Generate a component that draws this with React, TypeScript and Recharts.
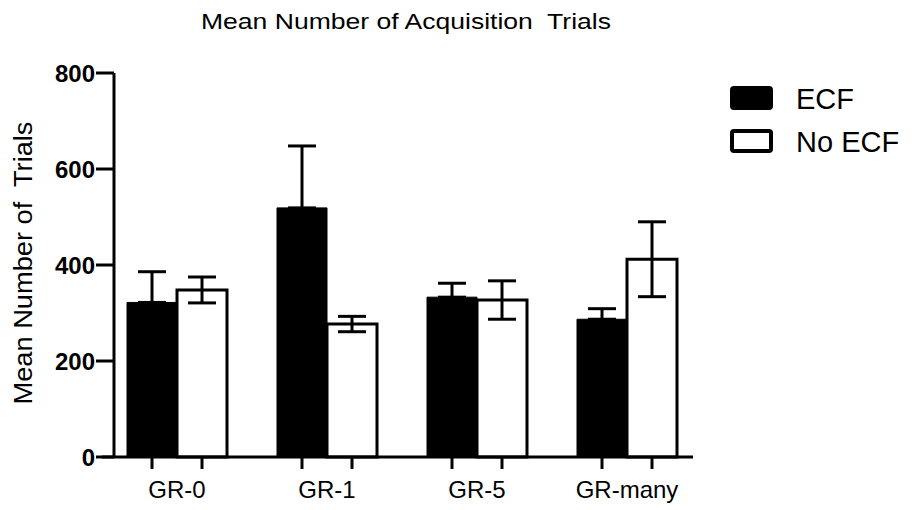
import React from "react";
import { BarChart, Bar, XAxis, YAxis, ErrorBar, Legend } from "recharts";

const groups = ["GR-0", "GR-1", "GR-5", "GR-many"];
const ecfMean = [322, 519, 333, 287];
const ecfSem = [64, 129, 29, 22];
const noEcfMean = [348, 277, 327, 412];
const noEcfSem = [27, 16, 40, 78];
const yTicks = [0, 200, 400, 600, 800];

const FONT = "'Liberation Sans', Arial, Helvetica, sans-serif";

const data = groups.map((g, i) => ({
    group: g,
    ecf: ecfMean[i],
    // only the upper whisker shows on the filled bars
    ecfErr: [0, ecfSem[i]],
    noEcf: noEcfMean[i],
    noEcfErr: noEcfSem[i],
}));

const XTick = (props: any) => {
    const { x, y, payload } = props;
    return (
        <g>
            <line x1={x - 25} x2={x - 25} y1={y} y2={y + 12} stroke="#000" strokeWidth={3} />
            <line x1={x + 25} x2={x + 25} y1={y} y2={y + 12} stroke="#000" strokeWidth={3} />
            <text x={x} y={y + 41} textAnchor="middle" fontSize={24} fill="#000" fontFamily={FONT}>
                {payload.value}
            </text>
        </g>
    );
};

const LegendBox = (props: any) => {
    const { payload } = props;
    return (
        <svg width={194} height={90}>
            {(payload || []).map((entry: any, i: number) => {
                const filled = entry.dataKey === "ecf";
                const top = i * 43;
                return (
                    <g key={entry.value}>
                        <rect
                            x={14}
                            y={top + 10}
                            width={39}
                            height={20}
                            rx={2}
                            fill={filled ? "#000" : "#fff"}
                            stroke="#000"
                            strokeWidth={4}
                        />
                        <text x={78} y={top + 31} fontSize={29} fill="#000" fontFamily={FONT}>
                            {entry.value}
                        </text>
                    </g>
                );
            })}
        </svg>
    );
};

const App: React.FC = () => {
    return (
        <div style={{ position: "absolute", left: 0, top: 0, background: "#fff" }}>
            <BarChart
                width={914}
                height={510}
                data={data}
                barCategoryGap={25}
                barGap={0}
                margin={{ top: 73, right: 221, bottom: 13, left: 54 }}
            >
                <text
                    x={406}
                    y={29}
                    textAnchor="middle"
                    fontSize={22}
                    fontFamily={FONT}
                    fill="#000"
                    textLength={410}
                    lengthAdjust="spacingAndGlyphs"
                    style={{ whiteSpace: "pre" }}
                >
                    {"Mean Number of Acquisition  Trials"}
                </text>
                <text
                    x={32}
                    y={263}
                    transform="rotate(-90, 32, 263)"
                    textAnchor="middle"
                    fontSize={25}
                    fontFamily={FONT}
                    fill="#000"
                    textLength={283}
                    lengthAdjust="spacingAndGlyphs"
                    style={{ whiteSpace: "pre" }}
                >
                    {"Mean Number of  Trials"}
                </text>
                {/* short stub of the x axis left of the y axis */}
                <line x1={102} x2={114} y1={457} y2={457} stroke="#000" strokeWidth={3} />
                <XAxis
                    dataKey="group"
                    padding={{ left: -12, right: -9 }}
                    axisLine={{ stroke: "#000", strokeWidth: 3 }}
                    tickLine={false}
                    tickSize={0}
                    tickMargin={0}
                    height={40}
                    interval={0}
                    tick={<XTick />}
                />
                <YAxis
                    domain={[0, 800]}
                    ticks={yTicks}
                    width={60}
                    tickSize={18}
                    tickMargin={1}
                    axisLine={{ stroke: "#000", strokeWidth: 3 }}
                    tickLine={{ stroke: "#000", strokeWidth: 3 }}
                    tick={{ fill: "#000", fontSize: 24, fontWeight: "bold", fontFamily: FONT }}
                />
                <Legend
                    layout="horizontal"
                    verticalAlign="middle"
                    align="center"
                    content={<LegendBox />}
                    wrapperStyle={{ position: "absolute", left: 718, top: 78, width: 194, height: 90 }}
                />
                <Bar dataKey="ecf" name="ECF" fill="#000" stroke="#000" strokeWidth={1} isAnimationActive={false}>
                    <ErrorBar dataKey="ecfErr" width={14} stroke="#000" strokeWidth={3} direction="y" isAnimationActive={false} />
                </Bar>
                <Bar dataKey="noEcf" name="No ECF" fill="#fff" stroke="#000" strokeWidth={3} isAnimationActive={false}>
                    <ErrorBar dataKey="noEcfErr" width={14} stroke="#000" strokeWidth={3} direction="y" isAnimationActive={false} />
                </Bar>
            </BarChart>
        </div>
    );
};

export default App;
